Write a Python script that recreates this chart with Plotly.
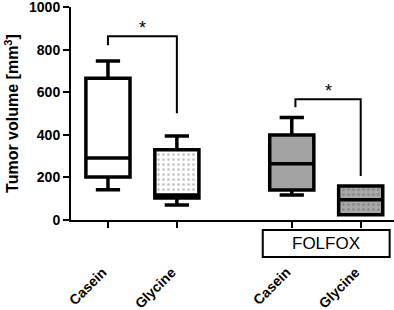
import plotly.graph_objects as go

# ---- data ----
categories = ["Casein", "Glycine", "Casein", "Glycine"]
positions = [1.0, 2.0, 3.667, 4.667]
lower = [142, 70, 118, 25]
q1 = [202, 104, 141, 25]
median = [292, 118, 265, 95]
q3 = [667, 330, 400, 160]
upper = [748, 395, 482, 160]
fills = ["white", "white", "#a3a3a3", "#a9a9a9"]
patterned = [False, True, False, True]
dotcolors = ["#888888", "#999999", "#6f6f6f", "#6f6f6f"]
group_label = "FOLFOX"
y_ticks = [0, 200, 400, 600, 800, 1000]
# significance brackets: (x_left, x_right, y_left_end, y_top, y_right_end, label)
brackets = [(1.0, 2.0, 822, 864, 502, "*"), (3.72, 4.667, 530, 568, 207, "*")]

BOXW = 0.64
fig = go.Figure()

# patterned fills (bars underneath)
for i in range(4):
    if patterned[i]:
        fig.add_trace(go.Bar(
            x=[positions[i]], y=[q3[i] - q1[i]], base=[q1[i]], width=BOXW,
            marker=dict(color=fills[i], line=dict(width=0),
                        pattern=dict(shape=".", fgcolor=dotcolors[i], bgcolor=fills[i],
                                     size=5, solidity=0.3)),
            showlegend=False, hoverinfo="skip"))

for i in range(4):
    fig.add_trace(go.Box(
        x=[positions[i]], q1=[q1[i]], median=[median[i]], q3=[q3[i]],
        lowerfence=[lower[i]], upperfence=[upper[i]],
        width=BOXW, whiskerwidth=0.55,
        fillcolor="rgba(0,0,0,0)" if patterned[i] else fills[i],
        line=dict(color="black", width=3.5),
        showlegend=False, boxpoints=False, hoverinfo="skip"))

shapes = []
annotations = []
for (xl, xr, yl, yt, yr, lab) in brackets:
    shapes.append(dict(type="path", xref="x", yref="y",
                       path=f"M {xl},{yl} L {xl},{yt} L {xr},{yt} L {xr},{yr}",
                       line=dict(color="black", width=2)))
    annotations.append(dict(x=(xl + xr) / 2, y=yt - 18, xref="x", yref="y",
                            text=lab, showarrow=False, yanchor="bottom",
                            font=dict(size=18, color="black", family="Liberation Sans")))

# FOLFOX group box
shapes.append(dict(type="rect", xref="x", yref="paper", x0=3.246, x1=5.087,
                   y0=-0.174, y1=-0.047, line=dict(color="black", width=2),
                   fillcolor="white"))
annotations.append(dict(x=(3.246 + 5.087) / 2, y=-0.11, xref="x", yref="paper",
                        text=group_label, showarrow=False, yanchor="middle",
                        font=dict(size=17, color="black", family="Liberation Sans")))

# category labels
for p, c in zip(positions, categories):
    annotations.append(dict(x=p + 0.07, y=-0.195, xref="x", yref="paper", text=c,
                            textangle=-45, showarrow=False, xanchor="right", yanchor="top",
                            font=dict(size=14, color="black", family="Liberation Sans",
                                      weight="bold")))

fig.update_layout(
    width=394, height=310,
    margin=dict(l=71, r=0, t=7, b=90),
    plot_bgcolor="white", paper_bgcolor="white",
    barmode="overlay", boxmode="overlay",
    shapes=shapes, annotations=annotations,
    font=dict(family="Liberation Sans", color="black"),
    xaxis=dict(range=[0.464, 5.15], tickvals=positions, showticklabels=False,
               ticks="outside", ticklen=6, tickwidth=2, tickcolor="black",
               showline=True, linecolor="black", linewidth=2, showgrid=False,
               zeroline=False),
    yaxis=dict(range=[0, 1002], tickvals=y_ticks, ticks="outside", ticklen=6,
               tickwidth=2, tickcolor="black", showline=True, linecolor="black",
               linewidth=2, showgrid=False, zeroline=False, ticklabeloverflow="allow",
               tickfont=dict(size=14, family="Liberation Sans", color="black", weight="bold"),
               title=dict(text="Tumor volume [mm<sup>3</sup>]", standoff=6,
                          font=dict(size=16, family="Liberation Sans", color="black", weight="bold"))),
)

fig.write_html("out.html", config={"displayModeBar": False},
               post_script="document.body.style.margin='0';")
